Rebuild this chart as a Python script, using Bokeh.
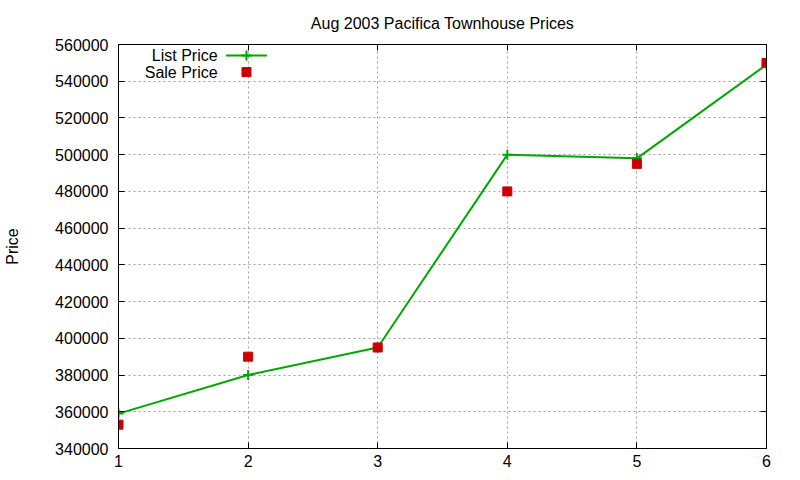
from bokeh.plotting import figure
from bokeh.embed import file_html
from bokeh.resources import INLINE
from bokeh.models import LinearAxis, Range1d, FixedTicker, Label, Title, BasicTickFormatter
from bokeh.core.properties import value

# data
listing = [1, 2, 3, 4, 5, 6]
list_price = [359000, 380000, 395000, 500000, 498000, 549000]
sale_price = [353000, 390000, 395000, 480000, 495000, 550000]
y_ticks = list(range(340000, 560001, 20000))
x_ticks = [1, 2, 3, 4, 5, 6]

GREEN = "#00a800"
RED = "#cc0000"
FONT = "Liberation Sans"

p = figure(width=784, height=472, output_backend="svg", toolbar_location=None,
           x_range=Range1d(1, 6), y_range=Range1d(340000, 560000),
           min_border_left=118, min_border_right=18, min_border_top=44, min_border_bottom=24)
p.title = None
p.outline_line_color = "black"
p.outline_line_width = 1
p.background_fill_color = "white"
p.border_fill_color = "white"

for ax in (p.xaxis[0], p.yaxis[0]):
    ax.major_label_text_font = FONT
    ax.major_label_text_font_size = "16px"
    ax.major_label_text_color = "black"
    ax.major_tick_in = 6
    ax.major_tick_out = 0
    ax.minor_tick_in = 0
    ax.minor_tick_out = 0
    ax.axis_line_color = "black"
    ax.axis_label_standoff = 0
p.xaxis[0].ticker = FixedTicker(ticks=x_ticks)
p.yaxis[0].ticker = FixedTicker(ticks=y_ticks)
p.yaxis[0].formatter = BasicTickFormatter(use_scientific=False)
p.yaxis[0].axis_label = "Price"
p.yaxis[0].axis_label_text_font = FONT
p.yaxis[0].axis_label_text_font_size = "16px"
p.yaxis[0].axis_label_text_font_style = "normal"
p.yaxis[0].axis_label_text_color = "black"
p.yaxis[0].axis_label_standoff = 31
p.yaxis[0].major_label_standoff = 10
p.xaxis[0].major_label_standoff = 6

blank_x = {t: "" for t in x_ticks}
blank_y = {t: "" for t in y_ticks}
top = LinearAxis(ticker=FixedTicker(ticks=x_ticks), major_label_overrides=blank_x,
                 major_tick_in=6, major_tick_out=0, minor_tick_in=0, minor_tick_out=0,
                 major_label_standoff=0, axis_label_standoff=0)
right = LinearAxis(ticker=FixedTicker(ticks=y_ticks), major_label_overrides=blank_y,
                   major_tick_in=6, major_tick_out=0, minor_tick_in=0, minor_tick_out=0,
                   major_label_standoff=0, axis_label_standoff=0)
p.add_layout(top, "above")
p.add_layout(right, "right")
p.add_layout(Title(text="Aug 2003 Pacifica Townhouse Prices", align="center",
                   text_font=FONT, text_font_size="16px", text_font_style="normal",
                   text_color="#000000", offset=0, standoff=22, vertical_align="top"), "above")

p.grid.grid_line_color = "#a0a0a0"
p.grid.grid_line_dash = "2 3"
p.grid.grid_line_width = 1
p.xgrid.ticker = FixedTicker(ticks=x_ticks)
p.ygrid.ticker = FixedTicker(ticks=y_ticks)

p.line(listing, list_price, line_color=GREEN, line_width=2)
p.scatter(listing, list_price, marker="cross", size=10, line_color=GREEN, line_width=2)
p.scatter(listing, sale_price, marker="square", size=9, fill_color=RED, line_color=RED)

# legend (gnuplot style: right-aligned text, sample on the right)
lx_text = 1.765
lx0, lx1 = 1.83, 2.145
ly1, ly2 = 554000, 545000
p.add_layout(Label(x=lx_text, y=ly1, text="List Price", text_align="right", text_baseline="middle",
                   text_font=FONT, text_font_size="16px", text_color="black"))
p.add_layout(Label(x=lx_text, y=ly2, text="Sale Price", text_align="right", text_baseline="middle",
                   text_font=FONT, text_font_size="16px", text_color="black"))
p.line([lx0, lx1], [ly1, ly1], line_color=GREEN, line_width=2)
p.scatter([(lx0 + lx1) / 2], [ly1], marker="cross", size=10, line_color=GREEN, line_width=2)
p.scatter([(lx0 + lx1) / 2], [ly2], marker="square", size=9, fill_color=RED, line_color=RED)

open("out.html", "w").write(file_html(p, INLINE))
